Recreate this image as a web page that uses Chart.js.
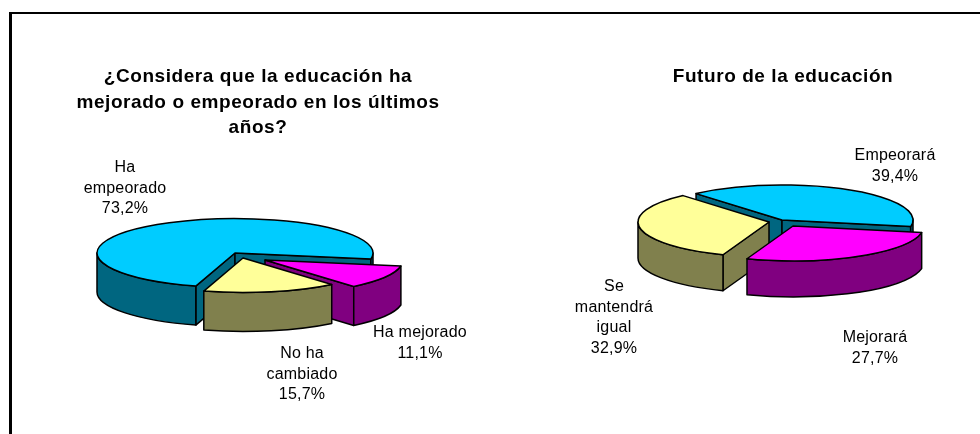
<!DOCTYPE html>
<html>
<head>
<meta charset="utf-8">
<title>Educación</title>
<script src="https://cdn.jsdelivr.net/npm/chart.js@4"></script>
<style>
html, body { margin: 0; padding: 0; background: #fff; overflow: hidden; width: 980px; height: 434px; }
#frame { position: absolute; left: 9px; top: 12px; right: 0; bottom: 0; border-left: 3px solid #000; border-top: 2px solid #000; }
canvas { position: absolute; top: 14px; }
#cLeft { left: 12px; }
#cRight { left: 570px; }
</style>
</head>
<body>
<div id="frame"></div>
<canvas id="cLeft" width="492" height="420"></canvas>
<canvas id="cRight" width="410" height="420"></canvas>
<script>
const leftTitle = ['¿Considera que la educación ha', 'mejorado o empeorado en los últimos', 'años?'];
const leftCategories = [['Ha', 'empeorado'], ['Ha mejorado'], ['No ha', 'cambiado']];
const leftValues = [73.2, 11.1, 15.7];

const rightTitle = 'Futuro de la educación';
const rightCategories = [['Empeorará'], ['Mejorará'], ['Se', 'mantendrá', 'igual']];
const rightValues = [39.4, 27.7, 32.9];

const sliceColors = ['#00ccff', '#ff00ff', '#ffff99'];
const wallColors = ['#006680', '#800080', '#80804d'];

const LINE = 1.5;

function wallPath(ctx, arc, cfg, sy) {
  // radial faces that look toward the viewer, then the rim
  const r = arc.outerRadius, s = cfg.squash, d = cfg.depth;
  const rim = a => [arc.x + r * Math.cos(a), sy + r * s * Math.sin(a)];
  const faces = [];
  if (Math.sin(arc.startAngle - Math.PI / 2) > 0) faces.push(arc.startAngle);
  if (Math.sin(arc.endAngle + Math.PI / 2) > 0) faces.push(arc.endAngle);
  faces.forEach(a => {
    const p = rim(a);
    ctx.beginPath();
    ctx.moveTo(arc.x, sy);
    ctx.lineTo(p[0], p[1]);
    ctx.lineTo(p[0], p[1] + d);
    ctx.lineTo(arc.x, sy + d);
    ctx.closePath();
    ctx.fill();
    ctx.stroke();
  });
  for (let k = -1; k < 3; k++) {
    const t0 = Math.max(arc.startAngle, 2 * Math.PI * k);
    const t1 = Math.min(arc.endAngle, 2 * Math.PI * k + Math.PI);
    if (t1 <= t0) continue;
    ctx.beginPath();
    ctx.ellipse(arc.x, sy, r, r * s, 0, t0, t1);
    ctx.ellipse(arc.x, sy + d, r, r * s, 0, t1, t0, true);
    ctx.closePath();
    ctx.fill();
    ctx.stroke();
  }
}

const pie3d = {
  id: 'pie3d',
  beforeDraw(chart) {
    // picked up by the title box
    chart.ctx.letterSpacing = '0.57px';
  },
  afterDatasetsUpdate(chart, args, cfg) {
    chart.getDatasetMeta(0).data.forEach((arc, i) => {
      arc.x = cfg.center[0] + cfg.shifts[i][0];
      arc.y = cfg.center[1] + cfg.shifts[i][1] / cfg.squash;
    });
  },
  beforeDatasetsDraw(chart, args, cfg) {
    const ctx = chart.ctx;
    const arcs = chart.getDatasetMeta(0).data.map((arc, i) => ({ arc, i }));
    // back to front
    arcs.sort((a, b) => Math.sin((a.arc.startAngle + a.arc.endAngle) / 2) - Math.sin((b.arc.startAngle + b.arc.endAngle) / 2));
    ctx.save();
    ctx.lineWidth = LINE;
    ctx.strokeStyle = '#000';
    ctx.lineJoin = 'round';
    arcs.forEach(({ arc, i }) => {
      ctx.fillStyle = wallColors[i];
      wallPath(ctx, arc, cfg, cfg.center[1] + cfg.shifts[i][1]);
    });
    ctx.restore();
    ctx.save();
    ctx.translate(0, cfg.center[1] * (1 - cfg.squash));
    ctx.scale(1, cfg.squash);
  },
  afterDatasetsDraw(chart, args, cfg) {
    const ctx = chart.ctx;
    ctx.restore();
    ctx.save();
    ctx.lineWidth = LINE;
    ctx.strokeStyle = '#000';
    ctx.lineJoin = 'round';
    chart.getDatasetMeta(0).data.forEach((arc, i) => {
      const sy = cfg.center[1] + cfg.shifts[i][1];
      ctx.beginPath();
      ctx.moveTo(arc.x, sy);
      ctx.ellipse(arc.x, sy, arc.outerRadius, arc.outerRadius * cfg.squash, 0, arc.startAngle, arc.endAngle);
      ctx.closePath();
      ctx.stroke();
    });
    ctx.restore();
    // slice labels
    ctx.save();
    ctx.fillStyle = '#000';
    ctx.font = cfg.labelFont;
    ctx.letterSpacing = '0.2px';
    ctx.textAlign = 'center';
    ctx.textBaseline = 'middle';
    chart.data.labels.forEach((lines, i) => {
      const pct = chart.data.datasets[0].data[i].toFixed(1).replace('.', ',') + '%';
      lines.concat(pct).forEach((t, n) => {
        ctx.fillText(t, cfg.labelAt[i][0], cfg.labelAt[i][1] + n * cfg.labelLine);
      });
    });
    ctx.restore();
  }
};

Chart.defaults.font.family = '"Liberation Sans", Arial, sans-serif';
Chart.defaults.color = '#000';

function drawPie(id, labels, values, title, rotation, radius, padLeft, cfg) {
  new Chart(document.getElementById(id).getContext('2d'), {
    type: 'pie',
    data: {
      labels: labels,
      datasets: [{ data: values, backgroundColor: sliceColors, borderWidth: 0 }]
    },
    options: {
      responsive: false,
      animation: false,
      rotation: rotation,
      radius: radius,
      layout: { padding: { left: padLeft } },
      plugins: {
        legend: { display: false },
        tooltip: { enabled: false },
        title: {
          display: true,
          text: title,
          font: { size: 19, weight: 'bold', lineHeight: 1.35 },
          padding: { top: 50, bottom: 0 }
        },
        pie3d: cfg
      }
    },
    plugins: [pie3d]
  });
}

// canvas origin: left chart (12,14), right chart (570,14)
drawPie('cLeft', leftCategories, leftValues, leftTitle, 196.5, 138, 0, {
  center: [223, 239],
  squash: 0.25,
  depth: 39,
  shifts: [[0, 0], [30, 7], [8, 5]],
  labelAt: [[113, 154], [408, 319], [290, 340]],
  labelLine: 20.5,
  labelFont: '16px "Liberation Sans", Arial, sans-serif'
});

drawPie('cRight', rightCategories, rightValues, rightTitle, 319, 131, 16, {
  center: [212, 206],
  squash: 0.267,
  depth: 36,
  shifts: [[0, 0], [11, 6], [-13, 2]],
  labelAt: [[325, 142], [305, 324], [44, 273]],
  labelLine: 20.5,
  labelFont: '16px "Liberation Sans", Arial, sans-serif'
});
</script>
</body>
</html>
